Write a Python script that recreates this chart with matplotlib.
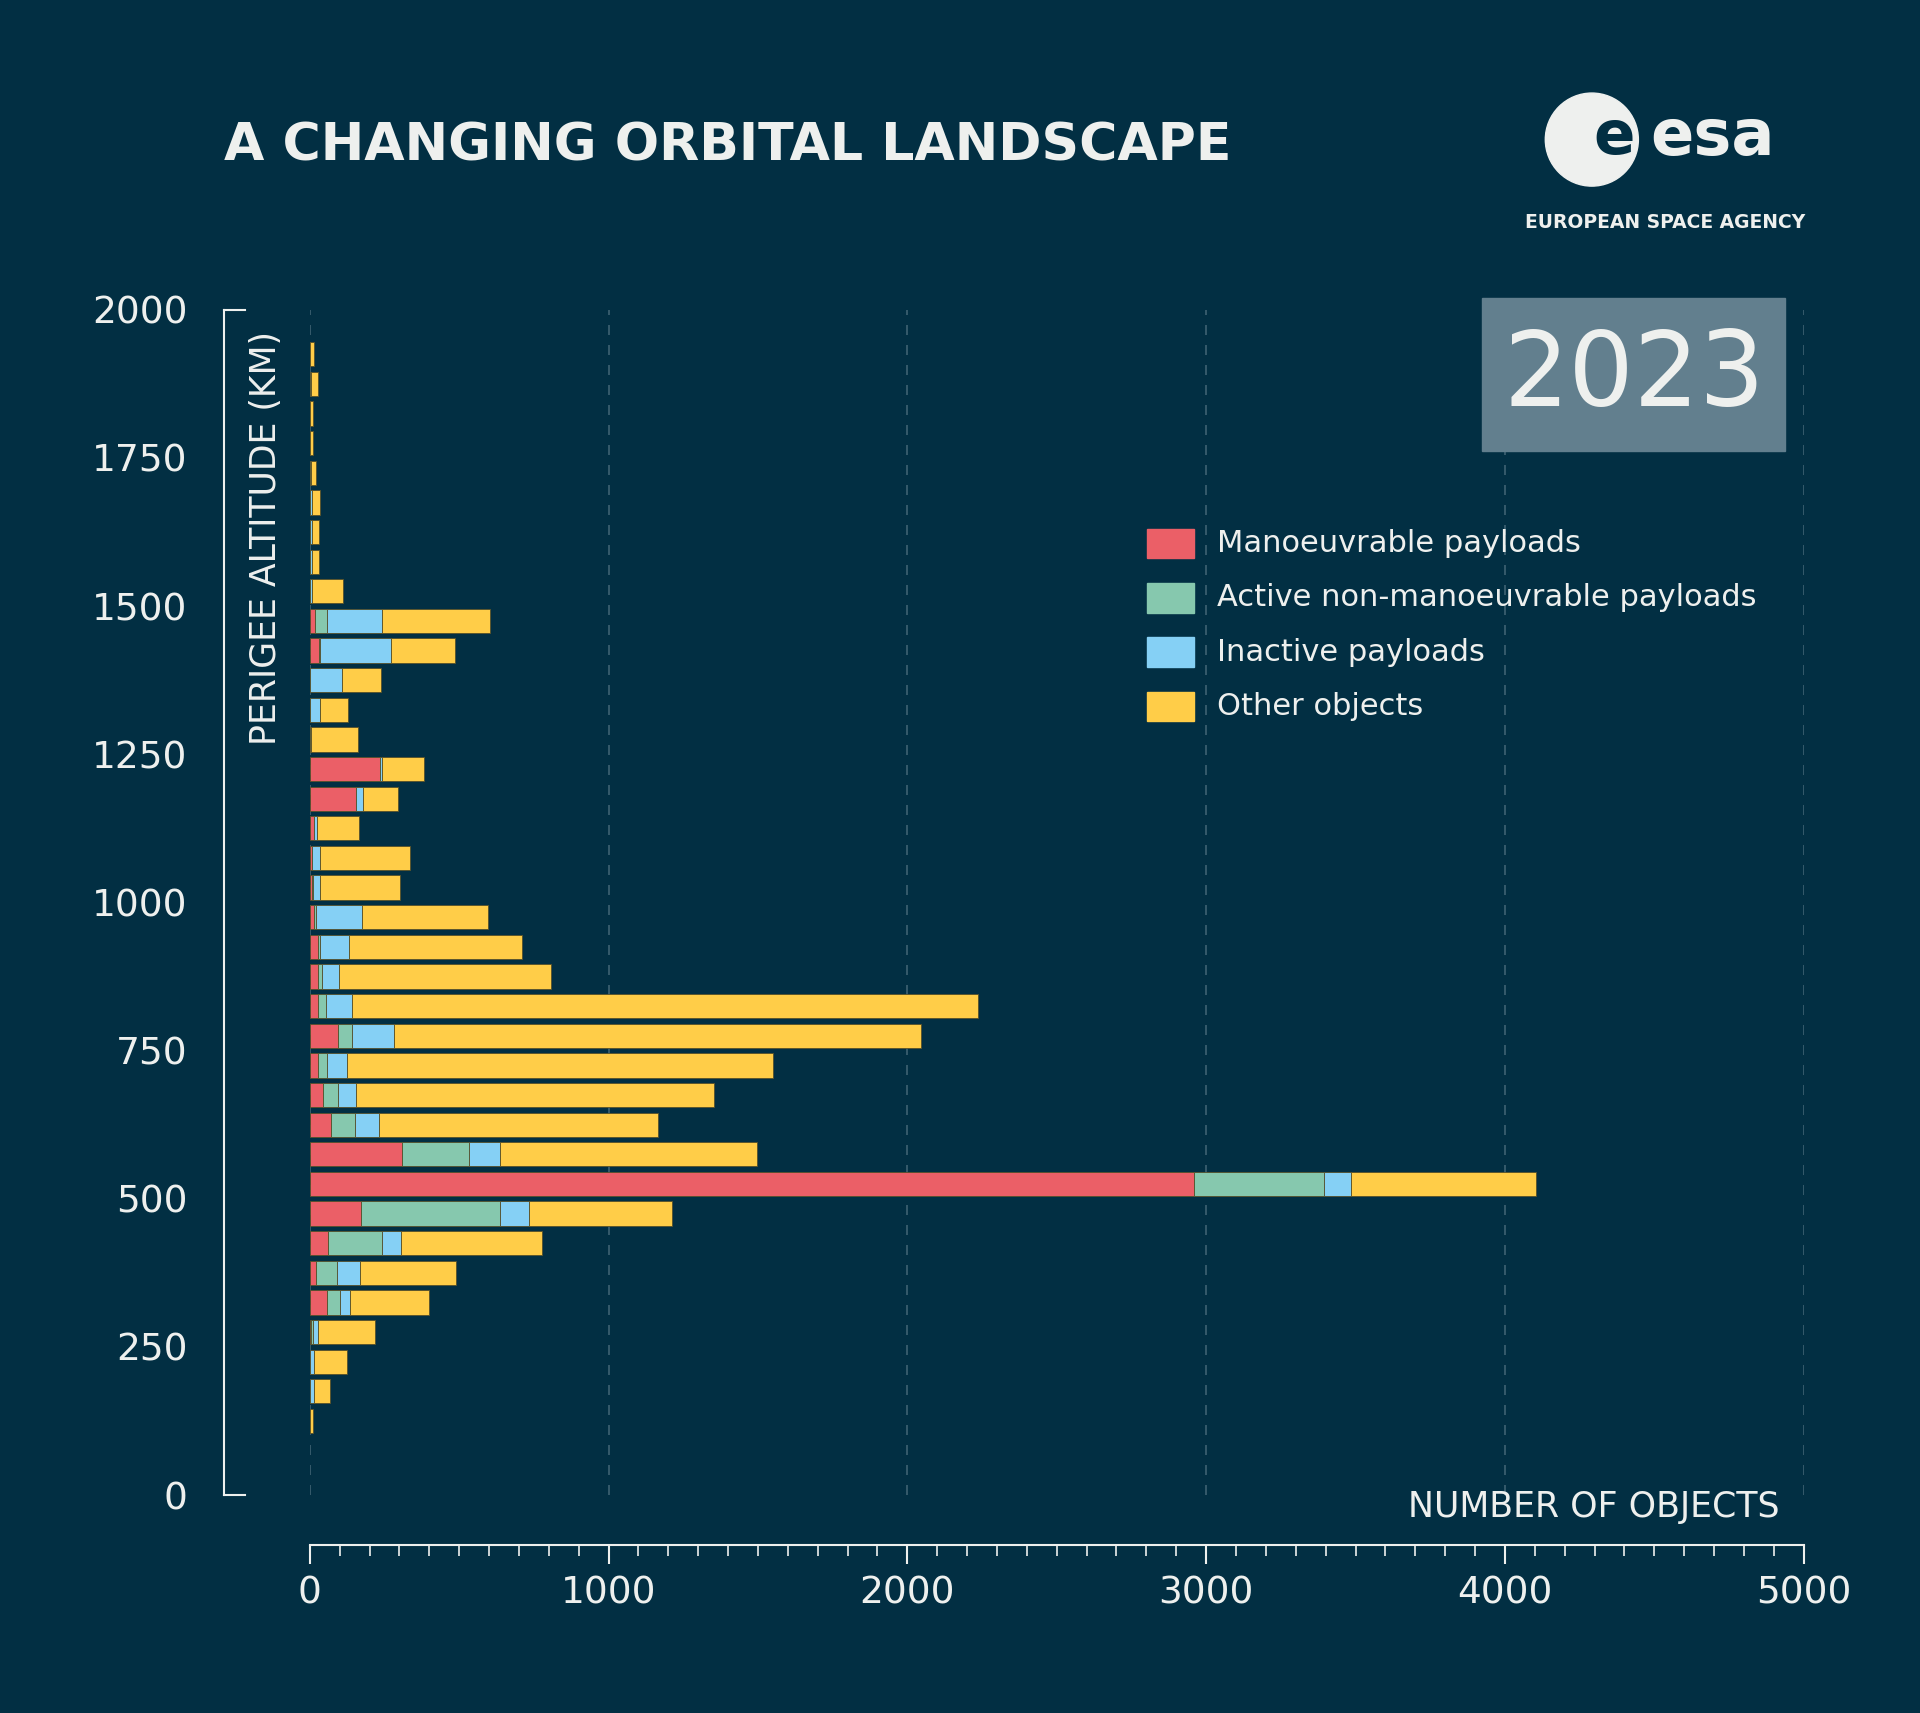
import matplotlib.pyplot as plt
from matplotlib.patches import Rectangle, Ellipse
import numpy as np

BG = "#022f43"
FG = "#eef0ee"

altitude = [1925, 1875, 1825, 1775, 1725, 1675, 1625, 1575, 1525, 1475, 1425, 1375, 1325,
            1275, 1225, 1175, 1125, 1075, 1025, 975, 925, 875, 825, 775, 725, 675, 625,
            575, 525, 475, 425, 375, 325, 275, 225, 175, 125]
manoeuvrable = [0, 0, 0, 0, 0, 0, 0, 0, 0, 17, 31, 2, 0,
                0, 234, 154, 15, 6, 7, 15, 27, 27, 27, 93, 28, 45, 70,
                309, 2960, 172, 60, 22, 57, 3, 0, 0, 0]
active = [0, 0, 0, 0, 0, 0, 0, 0, 0, 39, 3, 0, 0,
          0, 2, 0, 0, 2, 5, 7, 7, 15, 28, 49, 29, 48, 82,
          224, 435, 466, 181, 69, 43, 7, 0, 0, 0]
inactive = [0, 3, 0, 0, 4, 8, 8, 8, 6, 184, 239, 107, 34,
            5, 7, 24, 10, 26, 22, 153, 97, 57, 87, 140, 67, 61, 81,
            105, 90, 97, 65, 78, 36, 18, 15, 15, 0]
other = [15, 25, 12, 10, 16, 27, 22, 24, 104, 362, 212, 128, 94,
         155, 140, 118, 141, 301, 268, 423, 579, 709, 2096, 1763, 1428, 1198, 932,
         859, 619, 477, 471, 320, 264, 189, 109, 52, 12]

series = [("Manoeuvrable payloads", manoeuvrable, "#eb5f67"),
          ("Active non-manoeuvrable payloads", active, "#86c8ae"),
          ("Inactive payloads", inactive, "#85d0f5"),
          ("Other objects", other, "#ffcd48")]

W, H = 1568, 1399  # layout reference grid


def fx(x):
    return x / W


def fy(y):
    return 1 - y / H


fig = plt.figure(figsize=(19.2, 17.13), dpi=100, facecolor=BG)
ax = fig.add_axes([fx(253), fy(1221), fx(1473) - fx(253), fy(253) - fy(1221)])
ax.set_facecolor(BG)

left = np.zeros(len(altitude))
for name, vals, col in series:
    ax.barh(altitude, vals, height=41, left=left, color=col, edgecolor="#55502a",
            linewidth=0.6, label=name, zorder=3)
    left += np.array(vals)

ax.set_xlim(0, 5000)
ax.set_ylim(0, 2000)
for x in range(0, 5001, 1000):
    ax.axvline(x, color="#3f6272", linestyle=(0, (6, 6)), linewidth=1.2, zorder=1)

for s in ["top", "right", "left"]:
    ax.spines[s].set_visible(False)
ax.spines["bottom"].set_position(("outward", 36))
ax.spines["bottom"].set_color(FG)
ax.spines["bottom"].set_linewidth(1.5)
ax.set_xticks(range(0, 5001, 1000))
ax.set_xticks(range(0, 5001, 100), minor=True)
ax.tick_params(axis="x", which="major", colors=FG, length=14, width=1.5, labelsize=27, pad=8)
ax.tick_params(axis="x", which="minor", colors=FG, length=8, width=1.2)
ax.set_yticks(range(0, 2001, 250))
ax.tick_params(axis="y", length=0, colors=FG, labelsize=27, pad=88)

# left bracket
fig.add_artist(plt.Line2D([fx(183), fx(183)], [fy(253), fy(1221)], color=FG, lw=1.5))
for yy in (253, 1221):
    fig.add_artist(plt.Line2D([fx(183), fx(200)], [fy(yy), fy(yy)], color=FG, lw=1.5))

fig.text(fx(217), fy(270), "PERIGEE ALTITUDE (KM)", rotation=90, ha="center", va="top",
         color=FG, fontsize=25)
fig.text(fx(1453), fy(1231), "NUMBER OF OBJECTS", ha="right", va="center", color=FG, fontsize=25)

fig.text(fx(183), fy(120), "A CHANGING ORBITAL LANDSCAPE", ha="left", va="center",
         color=FG, fontsize=37.5, fontweight="bold")

# year box
fig.add_artist(Rectangle((fx(1210), fy(368)), fx(1458) - fx(1210), fy(243) - fy(368),
                         color="#627f8e", transform=fig.transFigure))
fig.text(fx(1335), fy(308), "2023", ha="center", va="center", color=FG, fontsize=74)

# logo
fig.add_artist(Ellipse((fx(1300), fy(114)), fx(76), fy(0) - fy(76), color=FG,
                       transform=fig.transFigure))
fig.text(fx(1318), fy(112), "e", ha="center", va="center", color=BG, fontsize=44, fontweight="bold")
fig.text(fx(1348), fy(112), "esa", ha="left", va="center", color=FG, fontsize=46, fontweight="bold")
fig.text(fx(1474), fy(182), "EUROPEAN SPACE AGENCY", ha="right", va="center", color=FG,
         fontsize=13.5, fontweight="bold")

# legend
for i, (name, vals, col) in enumerate(series):
    yy = 444 + i * 44.3
    fig.add_artist(Rectangle((fx(937), fy(yy + 12)), fx(38), fy(0) - fy(24), color=col,
                             transform=fig.transFigure))
    fig.text(fx(994), fy(yy), name, ha="left", va="center", color=FG, fontsize=22)

fig.savefig("out.png", dpi=100, facecolor=BG)
